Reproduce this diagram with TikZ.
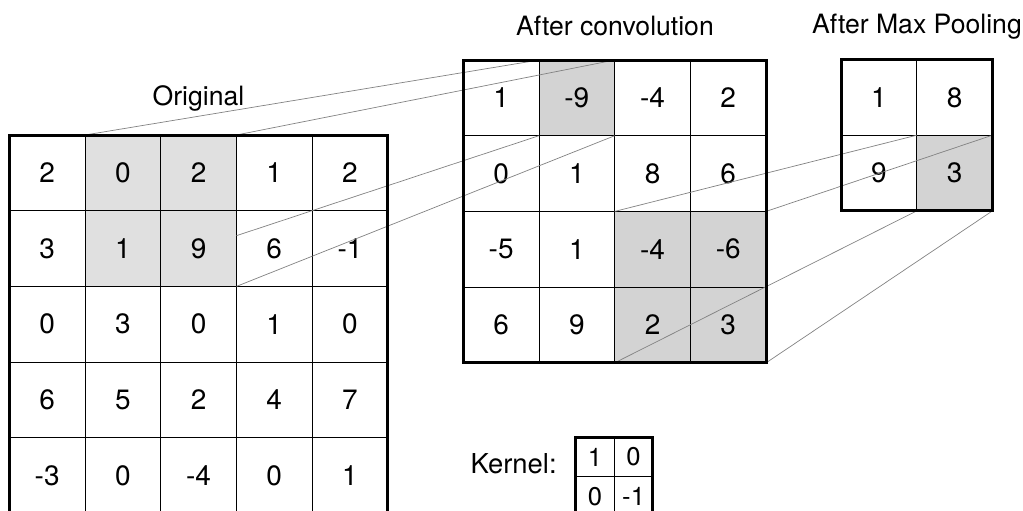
\documentclass[tikz,border=0pt]{standalone}
\usepackage{fontspec}
\setmainfont{TeX Gyre Heros}
\usetikzlibrary{calc,fit}
\definecolor{shadeA}{RGB}{224,224,224}
\definecolor{shadeB}{RGB}{211,211,211}
\definecolor{linkgray}{RGB}{130,130,130}
\begin{document}
\begin{tikzpicture}[x=0.5pt,y=-0.5pt,
  cell/.style={draw=black, line width=0.5pt, fill=white,
    minimum width=37.85pt, minimum height=37.85pt,
    inner sep=0pt, outer sep=0pt, anchor=north west,
    font=\fontsize{14}{16}\selectfont},
  kcell/.style={draw=black, line width=0.5pt, fill=white,
    minimum width=19.3pt, minimum height=19.7pt,
    inner sep=0pt, outer sep=0pt, anchor=north west,
    font=\fontsize{12.8}{14}\selectfont},
  frame/.style={draw=black, line width=1.5pt, inner sep=0pt, outer sep=0pt},
  title/.style={font=\fontsize{13.3}{15}\selectfont, inner sep=0pt, anchor=base},
  link/.style={draw=linkgray, line width=0.35pt},
  sh o-0-1/.style={fill=shadeA}, sh o-0-2/.style={fill=shadeA},
  sh o-1-1/.style={fill=shadeA}, sh o-1-2/.style={fill=shadeA},
  sh c-0-1/.style={fill=shadeB},
  sh c-2-2/.style={fill=shadeB}, sh c-2-3/.style={fill=shadeB},
  sh c-3-2/.style={fill=shadeB}, sh c-3-3/.style={fill=shadeB},
  sh p-1-1/.style={fill=shadeB}
]
\useasboundingbox (0,0) rectangle (1023,510);

% Original grid
\foreach \rowvals [count=\r from 0] in {{2,0,2,1,2},{3,1,9,6,-1},{0,3,0,1,0},{6,5,2,4,7},{-3,0,-4,0,1}}{
  \foreach \v [count=\c from 0] in \rowvals {
    \node[cell, sh o-\r-\c/.try] (o-\r-\c) at ({9.3+75.7*\c},{135+75.7*\r}) {\v};
  }
}
% Convolution grid
\foreach \rowvals [count=\r from 0] in {{1,-9,-4,2},{0,1,8,6},{-5,1,-4,-6},{6,9,2,3}}{
  \foreach \v [count=\c from 0] in \rowvals {
    \node[cell, sh c-\r-\c/.try] (c-\r-\c) at ({463.3+75.7*\c},{60+75.7*\r}) {\v};
  }
}
% Pooling grid
\foreach \rowvals [count=\r from 0] in {{1,8},{9,3}}{
  \foreach \v [count=\c from 0] in \rowvals {
    \node[cell, sh p-\r-\c/.try] (p-\r-\c) at ({841+75.7*\c},{59.5+75.7*\r}) {\v};
  }
}
% Kernel
\foreach \rowvals [count=\r from 0] in {{1,0},{0,-1}}{
  \foreach \v [count=\c from 0] in \rowvals {
    \node[kcell] (k-\r-\c) at ({575.7+38.6*\c},{437.3+39.4*\r}) {\v};
  }
}

% Connectors original -> convolution
\draw[link] (o-0-1.north west) -- (c-0-1.north west);
\draw[link] (o-0-2.north east) -- (c-0-1.north east);
\draw[link] ($(o-1-2.north east)!0.33!(o-1-2.south east)$) -- (c-0-1.south west);
\draw[link] (o-1-2.south east) -- (c-0-1.south east);
% Connectors convolution -> pooling
\draw[link] (c-2-2.north west) -- (p-1-1.north west);
\draw[link] (c-2-3.north east) -- (p-1-1.north east);
\draw[link] (c-3-2.south west) -- (p-1-1.south west);
\draw[link] (c-3-3.south east) -- (p-1-1.south east);

% Frames
\node[frame, fit=(o-0-0)(o-4-4)] (obox) {};
\node[frame, fit=(c-0-0)(c-3-3)] (cbox) {};
\node[frame, fit=(p-0-0)(p-1-1)] (pbox) {};
\node[frame, fit=(k-0-0)(k-1-1)] (kbox) {};

% Titles
\node[title] (t-orig) at (198.5,105.5) {Original};
\node[title] (t-conv) at (615,35) {After convolution};
\node[title] (t-pool) at (917,33.3) {After Max Pooling};
\node[title, font=\fontsize{13.7}{15}\selectfont, anchor=base east] (t-kern) at (557,473.3) {Kernel:};
\end{tikzpicture}
\end{document}
